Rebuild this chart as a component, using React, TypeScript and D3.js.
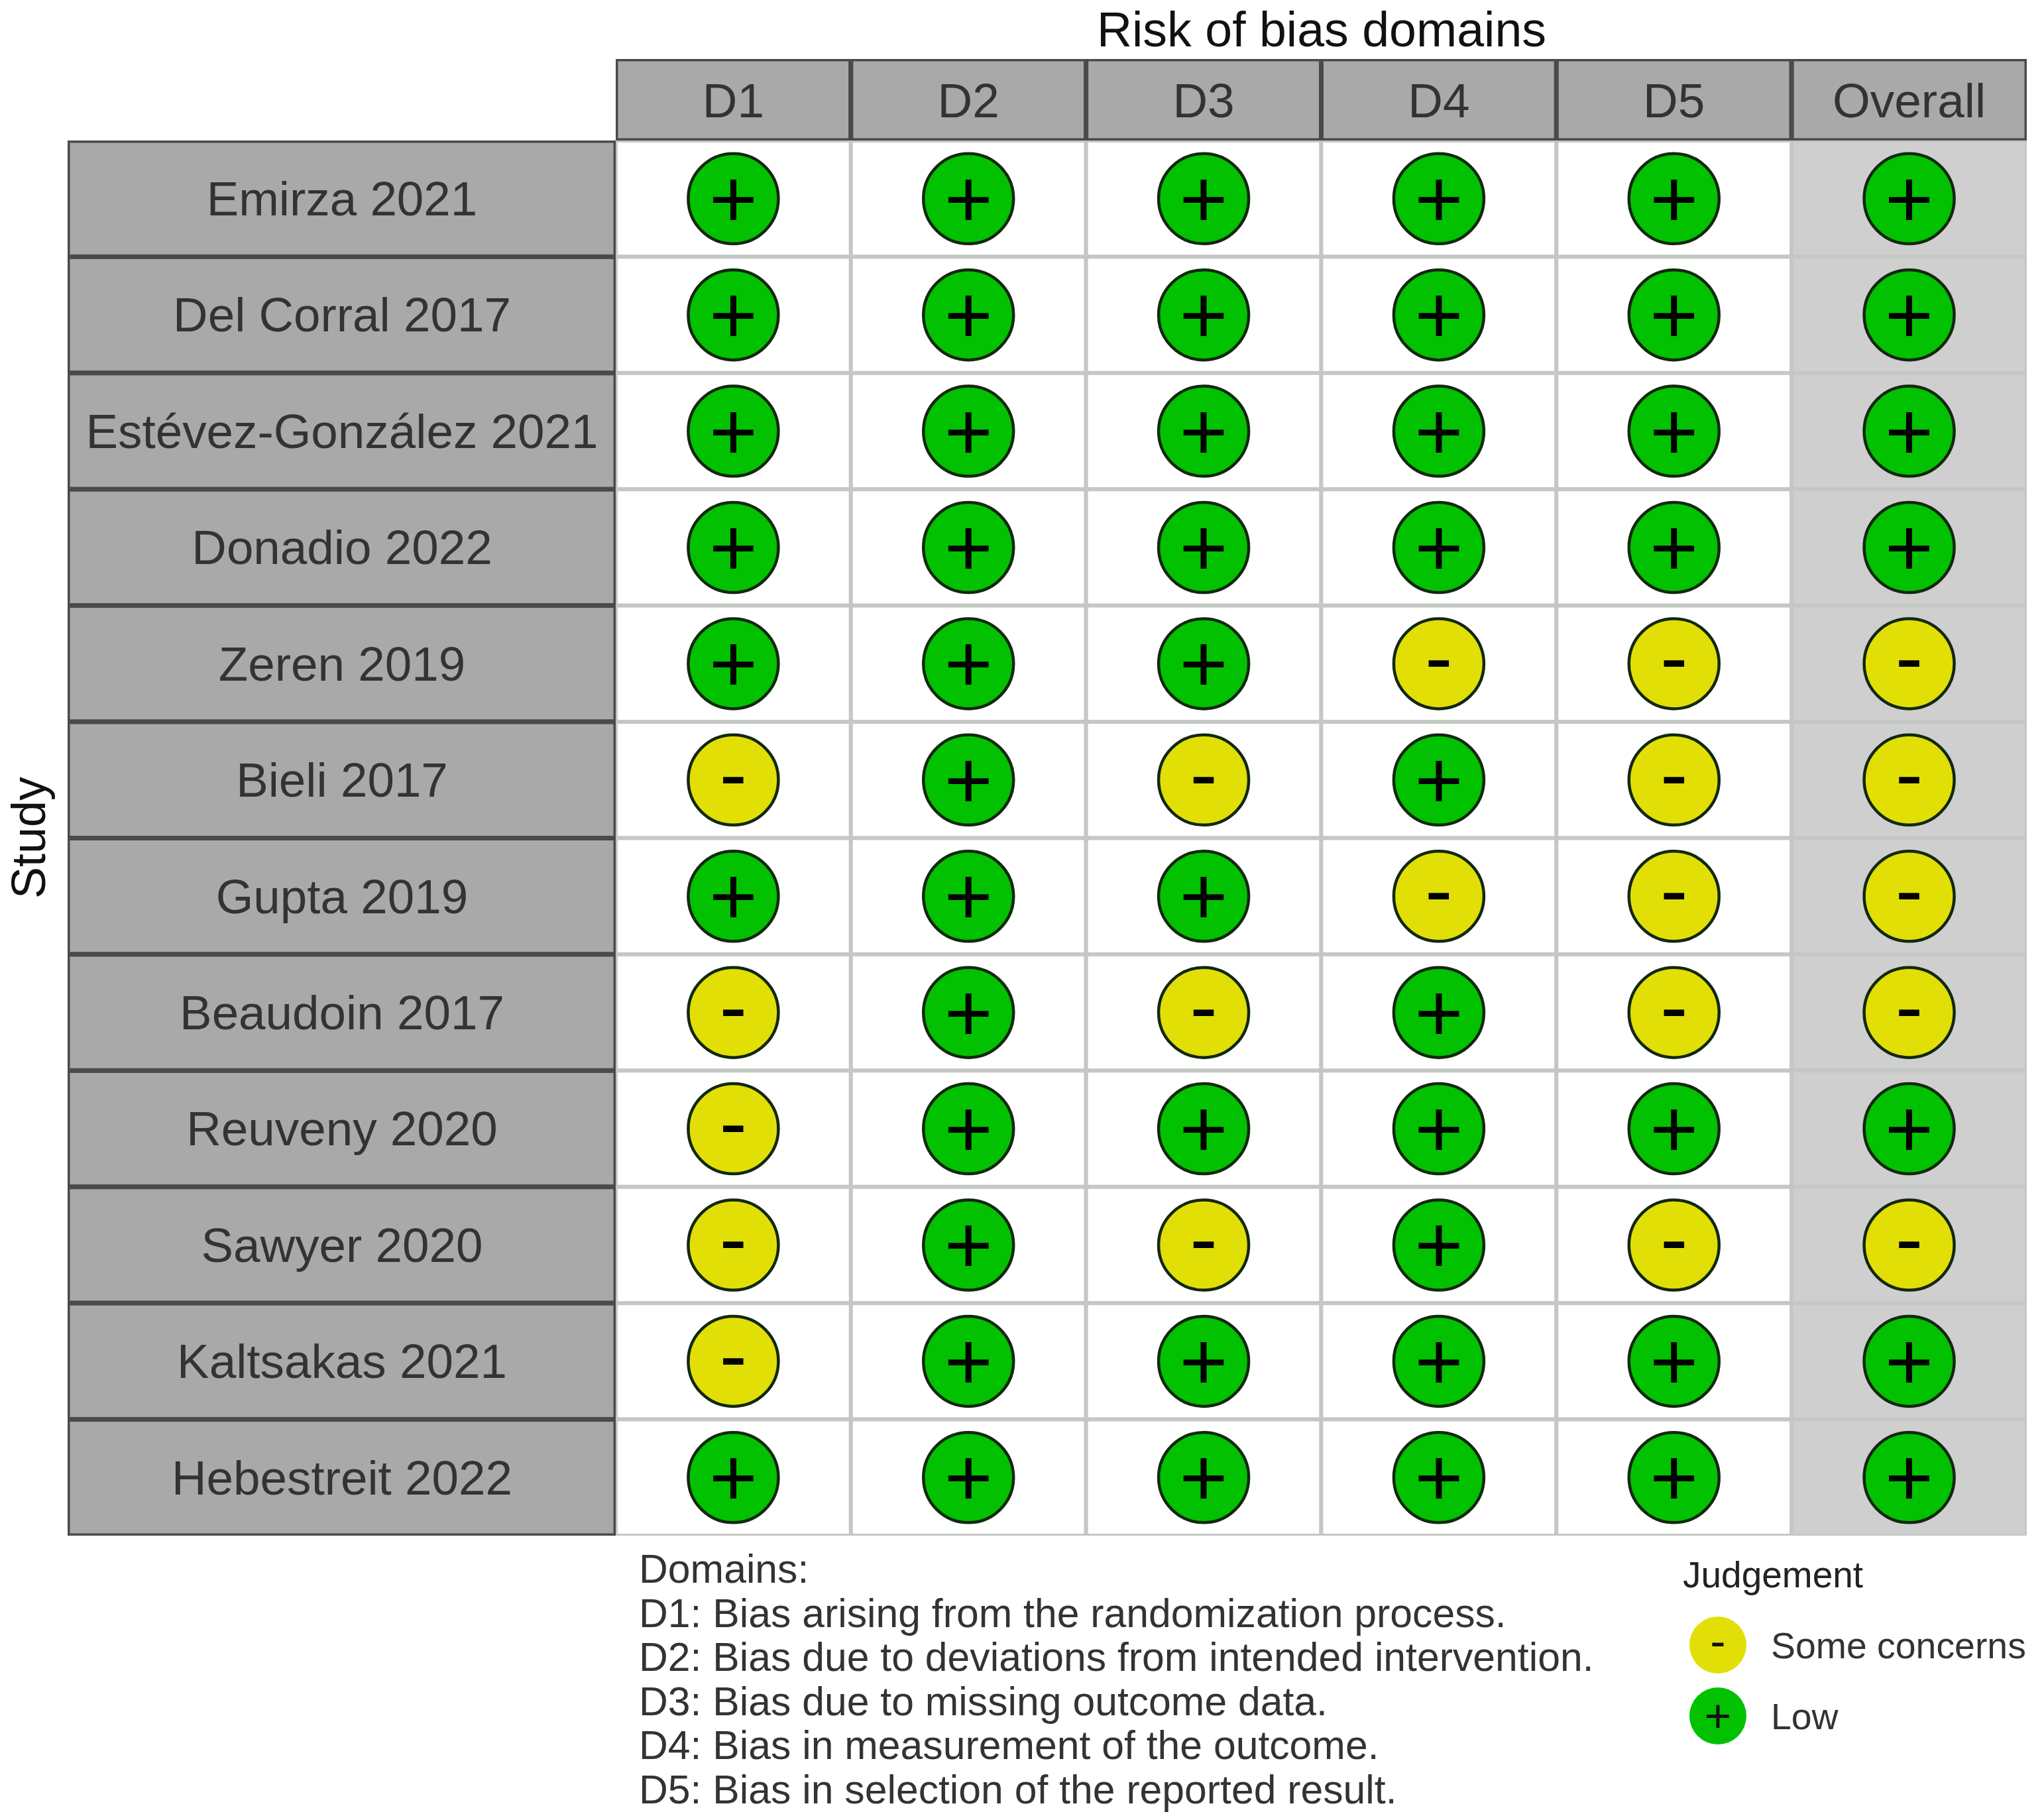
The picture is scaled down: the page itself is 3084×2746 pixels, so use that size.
import React from "react";
import * as d3 from "d3";

const studies = ["Emirza 2021","Del Corral 2017","Estévez-González 2021","Donadio 2022","Zeren 2019","Bieli 2017","Gupta 2019","Beaudoin 2017","Reuveny 2020","Sawyer 2020","Kaltsakas 2021","Hebestreit 2022"];
const domains = ["D1","D2","D3","D4","D5","Overall"];
const d1 = ["+","+","+","+","+","-","+","-","-","-","-","+"];
const d2 = ["+","+","+","+","+","+","+","+","+","+","+","+"];
const d3v = ["+","+","+","+","+","-","+","-","+","-","+","+"];
const d4 = ["+","+","+","+","-","+","-","+","+","+","+","+"];
const d5 = ["+","+","+","+","-","-","-","-","+","-","+","+"];
const overall = ["+","+","+","+","-","-","-","-","+","-","+","+"];
const judgements = [d1,d2,d3v,d4,d5,overall];
const domainNotes = ["Domains:","D1: Bias arising from the randomization process.","D2: Bias due to deviations from intended intervention.","D3: Bias due to missing outcome data.","D4: Bias in measurement of the outcome.","D5: Bias in selection of the reported result."];
const legendItems = [{sym:"-",label:"Some concerns"},{sym:"+",label:"Low"}];

const W = 3084, H = 2746;
const FONT = "'Liberation Sans', Arial, sans-serif";
const GREEN = "#02C100", YELLOW = "#E2DF07";
const fillOf = (s:string) => s === "+" ? GREEN : YELLOW;

const PL = 929, PR = 3058, PT = 212, PB = 2317;
const x = d3.scaleBand<string>().domain(domains).range([PL, PR]);
const y = d3.scaleBand<string>().domain(studies).range([PT, PB]);
const legendY = d3.scalePoint<string>().domain(legendItems.map(d=>d.label)).range([2482, 2589]);
const notesY = d3.scalePoint<string>().domain(domainNotes).range([2388, 2721]);

export default function App() {
  return (
    <svg width={W} height={H} viewBox={`0 0 ${W} ${H}`} style={{position:"absolute",left:0,top:0,background:"#fff"}} fontFamily={FONT}>
      <defs>
        <clipPath id="cp-strip-top"><rect x={PL} y={89} width={PR-PL} height={PT-89}/></clipPath>
        <clipPath id="cp-strip-left"><rect x={102} y={PT} width={PL-102} height={PB-PT}/></clipPath>
        <clipPath id="cp-panel"><rect x={PL} y={PT} width={PR-PL} height={PB-PT}/></clipPath>
      </defs>
      <text x={1994} y={70} fontSize={73.5} textAnchor="middle" fill="#111">Risk of bias domains</text>
      <text transform="translate(68,1264) rotate(-90)" fontSize={72} textAnchor="middle" fill="#111">Study</text>

      <g clipPath="url(#cp-panel)">
        {domains.map(dom=>studies.map(st=>(
          <rect key={dom+st} x={x(dom)} y={y(st)} width={x.bandwidth()} height={y.bandwidth()}
            fill={dom==="Overall"?"#CFCFCF":"#fff"} stroke="#C4C8C4" strokeWidth={6}/>
        )))}
      </g>

      <g clipPath="url(#cp-strip-top)">
        {domains.map(dom=>(
          <rect key={dom} x={x(dom)} y={89} width={x.bandwidth()} height={PT-89} fill="#A9A9A9" stroke="#4A4A4A" strokeWidth={7}/>
        ))}
      </g>
      {domains.map(dom=>(
        <text key={dom} x={x(dom)!+x.bandwidth()/2} y={177} fontSize={73} textAnchor="middle" fill="#333">{dom}</text>
      ))}

      <g clipPath="url(#cp-strip-left)">
        {studies.map(st=>(
          <rect key={st} x={102} y={y(st)} width={PL-102} height={y.bandwidth()} fill="#A9A9A9" stroke="#4A4A4A" strokeWidth={7}/>
        ))}
      </g>
      {studies.map(st=>(
        <text key={st} x={516} y={y(st)!+113} fontSize={72.8} textAnchor="middle" fill="#333">{st}</text>
      ))}

      {domains.map((dom,i)=>studies.map((st,j)=>{
        const v = judgements[i][j];
        const cx = x(dom)!+x.bandwidth()/2, cy = y(st)!+y.bandwidth()/2;
        return (
          <g key={dom+st}>
            <circle cx={cx} cy={cy} r={68} fill={fillOf(v)} stroke="#12280F" strokeWidth={4.5}/>
            <text x={cx} y={cy+(v==="+"?43:33)} fontSize={125} textAnchor="middle" fill="#000">{v}</text>
          </g>
        );
      }))}

      {domainNotes.map(t=>(
        <text key={t} x={964} y={notesY(t)} fontSize={60.7} fill="#333">{t}</text>
      ))}

      <text x={2539} y={2395} fontSize={55} fill="#222">Judgement</text>
      {legendItems.map(it=>{
        const cy = legendY(it.label)!;
        return (
          <g key={it.label}>
            <circle cx={2592} cy={cy} r={43} fill={fillOf(it.sym)}/>
            <text x={2592} y={cy+(it.sym==="+"?24:18)} fontSize={70} textAnchor="middle" fill="#111">{it.sym}</text>
            <text x={2672} y={cy+20} fontSize={55.4} fill="#333">{it.label}</text>
          </g>
        );
      })}
    </svg>
  );
}
